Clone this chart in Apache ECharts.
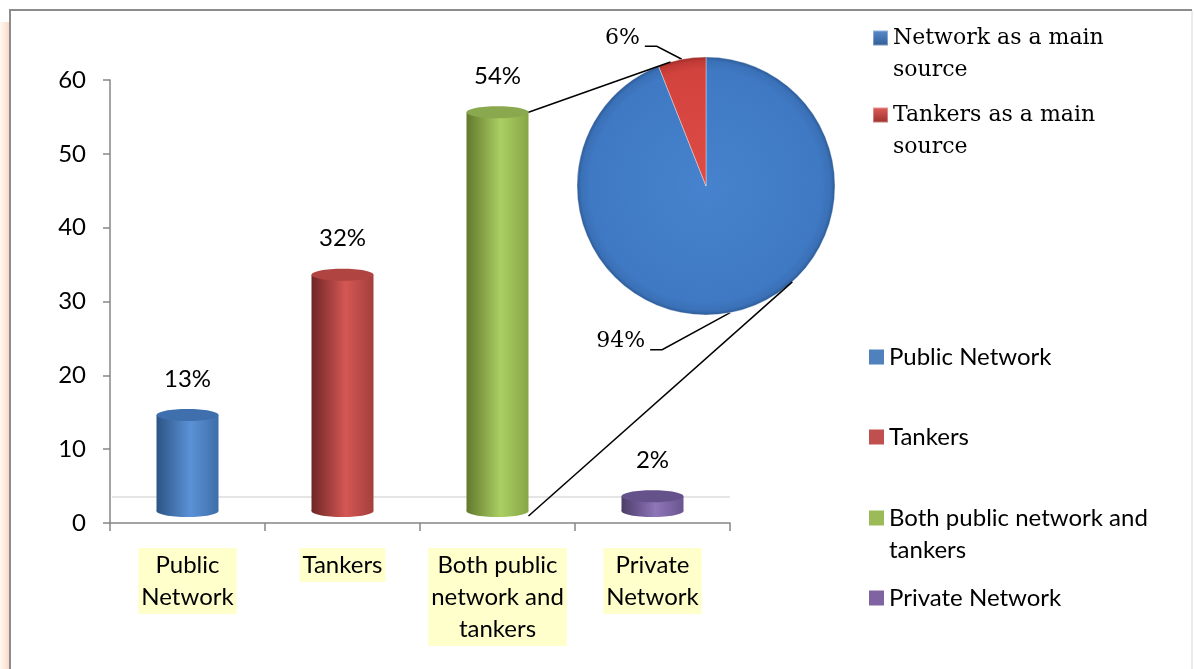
<!DOCTYPE html>
<html>
<head>
<meta charset="utf-8">
<script src="https://cdn.jsdelivr.net/npm/echarts@6/dist/echarts.min.js"></script>
<style>
  html, body { margin: 0; padding: 0; background: #ffffff; }
  #chart { width: 1194px; height: 669px; }
</style>
</head>
<body>
<div id="chart"></div>
<script>
// Main water source shares (percent of households)
const categories = ['Public Network', 'Tankers', 'Both public network and tankers', 'Private Network'];
const shareValues = [13, 32, 54, 2];

// Breakdown of the "both" group by main source
const sourceNames = ['Network as a main source', 'Tankers as a main source'];
const sourceShares = [94, 6];

// Value axis
const yMin = 0;
const yMax = 60;
const yStep = 10;

// ---- styling ----
const SANS = 'Lato';
const SERIF = 'DejaVu Serif';
const SANS_SIZE = 24;
const flatColors = ['#4f81bd', '#c0504d', '#9bbb59', '#8064a2'];
const cylPalettes = [
  { dark: '#2c5486', light: '#5b92d6', edge: '#3d6ea8', top: '#3f70ad' },
  { dark: '#6e2625', light: '#d45754', edge: '#a43f3c', top: '#b04441' },
  { dark: '#62792c', light: '#abcf63', edge: '#86a645', top: '#8aa84d' },
  { dark: '#4c3c69', light: '#8f76b8', edge: '#6a558f', top: '#66528a' }
];
const pieLegendColors = [
  new echarts.graphic.LinearGradient(0, 0, 0, 1, [{ offset: 0, color: '#5b8fd0' }, { offset: 1, color: '#2f5a93' }]),
  new echarts.graphic.LinearGradient(0, 0, 0, 1, [{ offset: 0, color: '#e0605b' }, { offset: 1, color: '#9c2e2b' }])
];

// pie geometry
const PIE_CX = 706, PIE_CY = 186, PIE_R = 129;
// label placement relative to each slice's mid-arc point: [dx, dy] of the label's right edge
const pieLabelOffsets = [[-85, 29], [-42, -21]];

// shading shared by the whole disc (global coordinates)
const pieFills = [
  new echarts.graphic.RadialGradient(PIE_CX, PIE_CY, PIE_R, [
    { offset: 0, color: '#4682cd' }, { offset: 0.9, color: '#3f79c3' }, { offset: 0.97, color: '#3a70b6' }, { offset: 1, color: '#2d5b98' }
  ], true),
  new echarts.graphic.RadialGradient(PIE_CX, PIE_CY, PIE_R, [
    { offset: 0, color: '#de4b45' }, { offset: 0.9, color: '#d3433e' }, { offset: 0.97, color: '#c03a35' }, { offset: 1, color: '#9e2c28' }
  ], true)
];

function wrap(text, maxChars) {
  const words = text.split(' ');
  const lines = [];
  let cur = '';
  words.forEach(function (w) {
    const t = cur ? cur + ' ' + w : w;
    if (t.length > maxChars && cur) { lines.push(cur); cur = w; } else { cur = t; }
  });
  if (cur) lines.push(cur);
  return lines;
}

// cylinder drawn for one category
function cylinder(idx) {
  const pal = cylPalettes[idx];
  return function (params, api) {
    const v = api.value(1);
    const top = api.coord([idx, v]);
    const base = api.coord([idx, 0]);
    const w = api.size([1, 0])[0] * 0.4;
    const lift = 12, ry = 6;
    const cx = top[0];
    const yt = top[1] - lift;
    const yb = base[1] - lift;
    const side = new echarts.graphic.LinearGradient(0, 0, 1, 0, [
      { offset: 0, color: pal.dark }, { offset: 0.55, color: pal.light }, { offset: 1, color: pal.edge }
    ]);
    return {
      type: 'group',
      children: [
        { type: 'ellipse', shape: { cx: cx, cy: yb, rx: w / 2, ry: ry }, style: { fill: side } },
        { type: 'rect', shape: { x: cx - w / 2, y: yt, width: w, height: yb - yt }, style: { fill: side } },
        { type: 'ellipse', shape: { cx: cx, cy: yt, rx: w / 2, ry: ry }, style: { fill: pal.top } },
        { type: 'text', style: { text: v + '%', x: cx, y: yt - 36, align: 'center', verticalAlign: 'middle',
          fontFamily: SANS, fontSize: SANS_SIZE, fill: '#000' } }
      ]
    };
  };
}

function pieLabelLayout(params) {
  const i = params.dataIndex;
  const total = sourceShares.reduce(function (a, b) { return a + b; }, 0);
  let cum = 0;
  for (let k = 0; k < i; k++) cum += sourceShares[k];
  const mid = (cum + sourceShares[i] / 2) / total * Math.PI * 2;
  const px = PIE_CX + PIE_R * Math.sin(mid);
  const py = PIE_CY - PIE_R * Math.cos(mid);
  const lx = px + pieLabelOffsets[i][0];
  const ly = py + pieLabelOffsets[i][1];
  return {
    x: lx, y: ly, align: 'right', verticalAlign: 'middle',
    labelLinePoints: [[px, py], [lx + 17, ly + 8], [lx + 5, ly + 8]]
  };
}

// one legend block per entry so every marker lines up with the first text line
function legendEntry(name, left, iconCenterY, maxChars, font, size, iconColor) {
  const lines = wrap(name, maxChars);
  const multi = lines.length > 1;
  const item = iconColor ? { name: name, itemStyle: { color: iconColor } } : name;
  return {
    data: [item],
    orient: 'vertical',
    left: left,
    top: iconCenterY - (multi ? 48 : 16),
    padding: 0,
    icon: 'rect',
    itemWidth: 15,
    itemHeight: 15,
    selectedMode: false,
    formatter: function () { return (multi ? '\n' : '') + lines.join('\n'); },
    textStyle: { fontFamily: font, fontSize: size, lineHeight: 32, color: '#000' }
  };
}

const series = categories.map(function (name, i) {
  return {
    type: 'custom',
    name: name,
    data: [[i, shareValues[i]]],
    encode: { x: 0, y: 1 },
    itemStyle: { color: flatColors[i] },
    renderItem: cylinder(i),
    silent: true,
    z: 2
  };
});

series.push({
  type: 'pie',
  name: 'Main source',
  center: [PIE_CX, PIE_CY],
  radius: PIE_R,
  startAngle: 90,
  clockwise: true,
  silent: true,
  z: 3,
  data: sourceNames.map(function (n, i) {
    return { name: n, value: sourceShares[i], itemStyle: { color: pieFills[i] } };
  }),
  itemStyle: { borderColor: 'rgba(255,255,255,0.35)', borderWidth: 1 },
  label: { show: true, formatter: '{c}%', fontFamily: SERIF, fontSize: 22, color: '#000' },
  labelLine: { show: true, lineStyle: { color: '#000', width: 1.5 } },
  labelLayout: pieLabelLayout,
  emphasis: { disabled: true }
});

const legends = [
  legendEntry(sourceNames[0], 872, 38, 17, SERIF, 22, pieLegendColors[0]),
  legendEntry(sourceNames[1], 872, 115, 17, SERIF, 22, pieLegendColors[1]),
  legendEntry(categories[0], 869, 357, 23, SANS, SANS_SIZE),
  legendEntry(categories[1], 869, 437, 23, SANS, SANS_SIZE),
  legendEntry(categories[2], 869, 518, 23, SANS, SANS_SIZE),
  legendEntry(categories[3], 869, 598, 23, SANS, SANS_SIZE)
];

const chart = echarts.init(document.getElementById('chart'), null, { renderer: 'canvas' });

chart.setOption({
  animation: false,
  backgroundColor: '#ffffff',
  color: flatColors,
  grid: { left: 110, right: 464, top: 80, bottom: 146, containLabel: false, outerBoundsMode: 'none' },
  legend: legends,
  xAxis: {
    type: 'category',
    data: categories,
    axisLine: { show: true, lineStyle: { color: '#868686', width: 1.5 } },
    axisTick: { show: true, length: 8, interval: 0, lineStyle: { color: '#868686', width: 1.5 } },
    axisLabel: {
      interval: 0, margin: 25, color: '#000', fontFamily: SANS, fontSize: SANS_SIZE, lineHeight: 32,
      backgroundColor: '#ffffcc', padding: [1, 3, 1, 3],
      formatter: function (v) { return wrap(v, 11).join('\n'); }
    },
    splitLine: { show: false }
  },
  yAxis: {
    type: 'value',
    min: yMin, max: yMax, interval: yStep,
    axisLine: { show: true, lineStyle: { color: '#868686', width: 1.5 } },
    axisTick: { show: true, length: 7, lineStyle: { color: '#868686', width: 1.5 } },
    axisLabel: { margin: 24, color: '#000', fontFamily: SANS, fontSize: SANS_SIZE },
    splitLine: { show: false }
  },
  series: series
});

// frame, floor edge and connectors from the "both" column to the pie
(function () {
  const both = 2;
  const topPt = chart.convertToPixel({ xAxisIndex: 0, yAxisIndex: 0 }, [both, shareValues[both]]);
  const zeroPt = chart.convertToPixel({ xAxisIndex: 0, yAxisIndex: 0 }, [both, 0]);
  const band = chart.convertToPixel({ xAxisIndex: 0, yAxisIndex: 0 }, [1, 0])[0] -
               chart.convertToPixel({ xAxisIndex: 0, yAxisIndex: 0 }, [0, 0])[0];
  const firstX = chart.convertToPixel({ xAxisIndex: 0, yAxisIndex: 0 }, [0, 0])[0] - band / 2;
  const lastX = chart.convertToPixel({ xAxisIndex: 0, yAxisIndex: 0 }, [categories.length - 1, 0])[0] + band / 2;
  const rightEdge = topPt[0] + band * 0.2;
  const lift = 12;
  const onPie = function (deg) {
    const a = deg * Math.PI / 180;
    return [PIE_CX + PIE_R * Math.sin(a), PIE_CY - PIE_R * Math.cos(a)];
  };
  const upper = onPie(-16);
  const lower = onPie(138);
  chart.setOption({
    graphic: [
      { type: 'rect', z: -1, shape: { x: 0, y: 22, width: 9, height: 647 },
        style: { fill: new echarts.graphic.LinearGradient(0, 0, 1, 0, [
          { offset: 0, color: 'rgba(252,228,212,0.3)' }, { offset: 1, color: '#fad9c4' }]) } },
      { type: 'polyline', shape: { points: [[10, 669], [10, 10], [1192, 10]] },
        style: { stroke: '#8c8c8c', lineWidth: 2, fill: null } },
      { type: 'line', shape: { x1: 1192, y1: 11, x2: 1192, y2: 669 }, style: { stroke: '#d6d6d6', lineWidth: 1 } },
      { type: 'line', z: 0, shape: { x1: firstX + 2, y1: zeroPt[1] - 26, x2: lastX, y2: zeroPt[1] - 26 },
        style: { stroke: '#dcdcdc', lineWidth: 1.5 } },
      { type: 'line', z: 10, shape: { x1: rightEdge, y1: topPt[1] - lift, x2: upper[0], y2: upper[1] },
        style: { stroke: '#000', lineWidth: 1.5 } },
      { type: 'line', z: 10, shape: { x1: rightEdge, y1: zeroPt[1] - lift + 5, x2: lower[0], y2: lower[1] },
        style: { stroke: '#000', lineWidth: 1.5 } }
    ]
  });
})();
</script>
</body>
</html>
